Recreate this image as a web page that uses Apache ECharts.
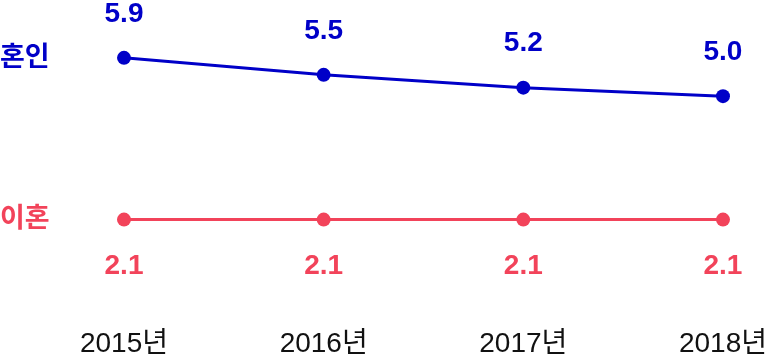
<!DOCTYPE html>
<html><head><meta charset="utf-8">
<script src="https://cdn.jsdelivr.net/npm/echarts@6/dist/echarts.min.js"></script>
<style>html,body{margin:0;padding:0;background:#fff}#c{width:770px;height:358px}</style>
</head><body><div id="c"></div>
<script>
var categories = ['2015년', '2016년', '2017년', '2018년'];
var marriage = [5.9, 5.5, 5.2, 5.0];
var divorce = [2.1, 2.1, 2.1, 2.1];
var seriesNames = ['혼인', '이혼'];

var BLUE = '#0000c8', RED = '#f2435a';
var FONT = '"Liberation Sans", "Noto Sans CJK KR", sans-serif';
var KFONT = '"Noto Sans CJK KR", sans-serif';
var chart = echarts.init(document.getElementById('c'));
chart.setOption({
  animation: false,
  grid: {left: 124, right: 46, top: 11, bottom: 48.5},
  xAxis: {type: 'category', data: categories, boundaryGap: false,
    axisLine: {show: false}, axisTick: {show: false}, splitLine: {show: false},
    axisLabel: {margin: 21, color: '#111', fontSize: 28, fontFamily: FONT}},
  yAxis: {type: 'value', min: 0, max: 7, show: false},
  series: [
    {name: seriesNames[0], type: 'line', data: marriage, symbol: 'circle', symbolSize: 14,
     itemStyle: {color: BLUE}, lineStyle: {color: BLUE, width: 3},
     label: {show: true, position: 'top', distance: 23, color: BLUE, fontSize: 28, fontWeight: 'bold', fontFamily: FONT,
       formatter: function(p){return p.value.toFixed(1);}}},
    {name: seriesNames[1], type: 'line', data: divorce, symbol: 'circle', symbolSize: 14,
     itemStyle: {color: RED}, lineStyle: {color: RED, width: 3},
     label: {show: true, position: 'bottom', distance: 26, color: RED, fontSize: 28, fontWeight: 'bold', fontFamily: FONT,
       formatter: function(p){return p.value.toFixed(1);}}}
  ],
  graphic: [
    {type: 'text', x: 0, y: 56, style: {text: seriesNames[0], fill: BLUE, font: 'bold 27px ' + KFONT, verticalAlign: 'middle'}},
    {type: 'text', x: 0, y: 217, style: {text: seriesNames[1], fill: RED, font: 'bold 27px ' + KFONT, verticalAlign: 'middle'}}
  ]
});
</script></body></html>
